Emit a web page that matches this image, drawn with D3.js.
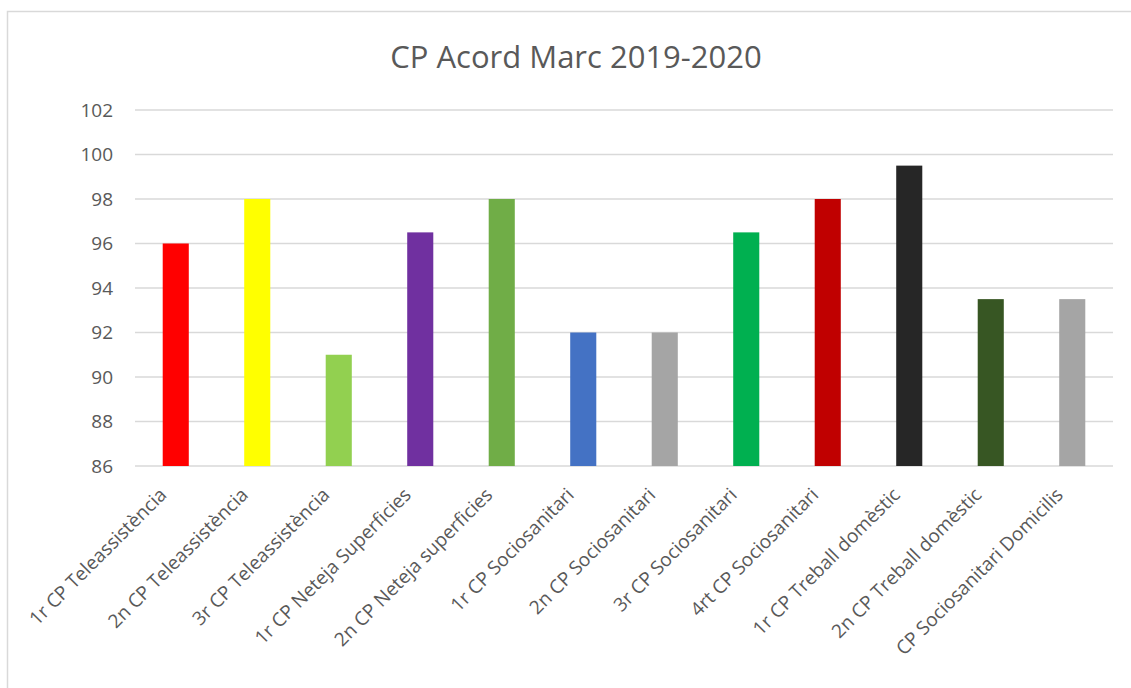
<!DOCTYPE html>
<html>
<head>
<meta charset="utf-8">
<style>
  body { margin: 0; background: #fff; }
  svg text { font-family: "Open Sans", "Noto Sans", sans-serif; }
  .grid line { stroke: #d9d9d9; stroke-width: 1.5; }
  .tick text { fill: #595959; }
</style>
</head>
<body>
<svg width="1131" height="688"></svg>
<script src="https://d3js.org/d3.v7.min.js"></script>
<script>
var categories = [
  "1r CP Teleassistència", "2n CP Teleassistència", "3r CP Teleassistència",
  "1r CP Neteja Superficies", "2n CP Neteja superficies", "1r CP Sociosanitari",
  "2n CP Sociosanitari", "3r CP Sociosanitari", "4rt CP Sociosanitari",
  "1r CP Treball domèstic", "2n CP Treball domèstic", "CP Sociosanitari Domicilis"
];
var values = [96, 98, 91, 96.5, 98, 92, 92, 96.5, 98, 99.5, 93.5, 93.5];
var colors = ["#ff0000", "#ffff00", "#92d050", "#7030a0", "#70ad47", "#4472c4",
              "#a5a5a5", "#00b050", "#c00000", "#262626", "#375623", "#a5a5a5"];
var yTicks = [86, 88, 90, 92, 94, 96, 98, 100, 102];

var svg = d3.select("svg");

// chart frame
svg.append("rect")
    .attr("x", 7.5).attr("y", 11.5)
    .attr("width", 1140).attr("height", 700)
    .attr("fill", "#fff")
    .attr("stroke", "#d9d9d9").attr("stroke-width", 1.5);

var plotLeft = 135, plotRight = 1113, plotTop = 110, plotBottom = 466;

var x = d3.scaleBand()
    .domain(categories)
    .range([plotLeft, plotRight])
    .paddingInner(0.68)
    .paddingOuter(0.34);

var y = d3.scaleLinear()
    .domain([86, 102])
    .range([plotBottom, plotTop]);

// gridlines
svg.append("g")
    .attr("class", "grid")
    .selectAll("line")
    .data(yTicks)
    .enter().append("line")
      .attr("x1", plotLeft).attr("x2", plotRight)
      .attr("y1", function(d) { return y(d); })
      .attr("y2", function(d) { return y(d); });

// y axis labels
var yAxis = svg.append("g")
    .attr("transform", "translate(" + plotLeft + ",0)")
    .call(d3.axisLeft(y).tickValues(yTicks).tickSize(0).tickPadding(22));
yAxis.select(".domain").remove();
yAxis.selectAll("text")
    .attr("font-size", 19);

// bars
svg.append("g")
    .selectAll("rect")
    .data(values)
    .enter().append("rect")
      .attr("x", function(d, i) { return x(categories[i]); })
      .attr("y", function(d) { return y(d); })
      .attr("width", x.bandwidth())
      .attr("height", function(d) { return y(86) - y(d); })
      .attr("fill", function(d, i) { return colors[i]; });

// x labels
var xAxis = svg.append("g")
    .attr("transform", "translate(0," + plotBottom + ")")
    .call(d3.axisBottom(x).tickSize(0).tickPadding(0));
xAxis.select(".domain").remove();
xAxis.selectAll("text")
    .attr("font-size", 19)
    .attr("text-anchor", "end")
    .attr("dy", null)
    .attr("transform", "translate(-8,30) rotate(-45)");

// title
svg.append("text")
    .attr("x", 576)
    .attr("y", 68)
    .attr("text-anchor", "middle")
    .attr("font-size", 31)
    .attr("fill", "#595959")
    .text("CP Acord Marc 2019-2020");
</script>
</body>
</html>
